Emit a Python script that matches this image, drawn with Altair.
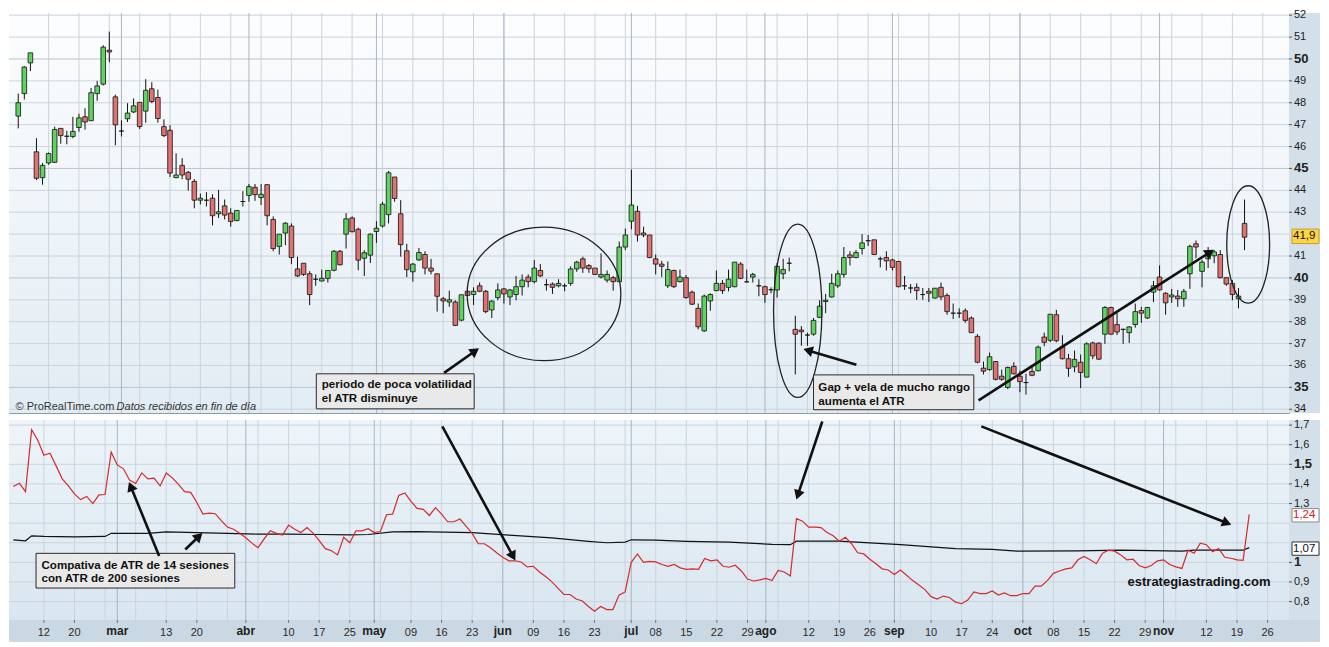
import math
import altair as alt
import pandas as pd

# ---------------- data ----------------
opens = [47.39,48.42,49.82,45.76,44.58,45.25,45.28,46.83,46.47,46.46,
         46.87,47.36,47.18,48.42,48.85,50.40,48.27,46.71,47.27,47.58,
         48.02,47.62,48.64,48.24,46.91,46.74,44.58,45.14,44.82,44.41,
         43.55,43.55,43.64,42.93,43.29,42.96,42.62,43.49,43.77,44.14,
         43.67,44.26,42.67,41.44,42.05,42.37,40.41,40.67,40.19,39.94,
         39.86,39.98,40.35,41.22,42.00,42.74,42.22,40.90,41.04,42.12,
         42.37,42.89,44.61,42.93,41.24,40.28,40.82,41.07,40.45,40.19,
         39.05,38.90,38.90,38.07,39.39,39.24,39.64,39.39,38.54,39.10,
         39.50,39.13,39.24,39.60,40.04,39.83,40.34,39.69,39.72,39.64,
         39.64,39.75,40.41,40.87,40.56,40.45,40.04,39.90,40.01,39.83,
         41.41,42.59,43.04,42.05,41.96,40.87,40.63,39.64,40.34,39.83,
         40.01,39.35,38.61,37.58,38.95,39.42,39.75,39.57,39.60,40.63,
         39.82,40.04,39.64,39.60,39.46,39.45,40.19,40.67,37.65,37.62,
         37.39,37.43,38.20,38.92,39.13,39.64,40.16,41.05,40.93,41.34,
         41.70,41.74,40.87,40.93,40.82,40.75,39.64,39.54,39.57,39.24,
         39.39,39.08,39.57,39.20,38.39,38.39,38.50,38.17,37.33,35.88,
         35.81,36.18,35.51,35.00,35.96,35.51,35.22,35.73,35.76,37.30,
         37.15,38.32,36.85,36.31,35.94,36.15,35.47,37.03,37.02,37.43,
         38.65,37.87,37.65,37.50,37.87,38.51,38.17,39.35,40.04,39.30,
         39.13,39.17,39.05,40.19,41.56,40.30,40.87,41.01,41.07,40.01,
         39.75,39.05,42.49]
highs = [48.42,49.67,50.28,46.38,45.25,45.73,46.91,46.83,46.72,47.36,
         47.50,47.75,48.68,49.00,50.63,51.25,48.37,47.20,47.98,48.20,
         48.02,49.08,48.94,48.60,47.24,46.97,45.69,45.47,44.88,44.51,
         43.85,43.92,43.82,44.02,43.58,43.18,43.08,43.96,44.29,44.29,
         44.29,44.26,42.81,42.00,42.55,42.49,40.97,40.67,40.31,40.16,
         40.38,40.34,41.27,41.27,42.96,42.81,42.30,41.27,42.03,42.59,
         43.48,44.88,44.61,43.55,41.56,40.68,41.37,41.22,40.87,40.19,
         39.13,39.42,38.98,39.23,39.64,39.57,39.79,39.45,38.98,39.75,
         39.54,39.50,40.09,40.16,40.16,40.82,40.63,39.94,39.79,39.94,
         39.75,40.53,40.78,40.97,40.63,40.45,41.12,40.34,40.09,41.66,
         42.25,44.95,43.29,42.34,41.96,41.07,40.78,40.75,40.38,40.38,
         40.13,39.42,38.83,39.24,39.30,40.34,39.90,40.38,40.72,40.72,
         40.38,40.23,39.94,39.64,39.57,40.68,40.87,40.93,38.27,37.80,
         37.50,38.17,38.98,39.27,40.19,40.34,41.41,41.22,41.27,42.00,
         41.96,41.74,40.97,41.22,40.87,40.78,40.09,39.72,39.75,39.54,
         39.54,39.54,39.79,39.30,38.83,38.61,38.61,38.24,37.43,36.18,
         36.59,36.20,35.81,35.95,36.15,35.76,35.62,36.03,36.91,37.50,
         38.34,38.54,37.38,36.53,36.68,36.50,37.06,37.09,37.06,38.71,
         38.68,38.39,37.68,37.80,38.83,38.68,38.68,39.86,40.57,39.35,
         39.50,39.45,39.50,41.52,41.71,40.82,41.41,41.27,41.27,40.04,
         39.90,39.54,43.58]
lows = [46.83,48.15,49.45,44.47,44.26,45.17,45.25,46.13,46.10,46.38,
        46.68,46.77,47.17,48.09,48.79,49.85,46.06,46.46,47.12,47.53,
        46.80,47.09,47.98,47.09,46.43,44.61,44.55,44.51,43.99,43.18,
        43.36,43.26,42.40,42.74,42.67,42.34,42.59,43.26,43.48,43.52,
        43.33,42.40,41.22,41.07,41.49,40.63,40.04,40.09,38.76,39.64,
        39.83,39.79,40.30,40.57,41.34,42.08,40.35,40.09,40.68,41.60,
        42.30,42.49,43.48,40.97,40.04,39.83,40.78,40.16,40.16,38.46,
        38.39,38.68,37.80,38.02,39.16,38.76,39.35,38.39,38.17,38.98,
        38.83,38.76,38.98,39.20,39.57,39.75,40.04,39.42,39.27,39.57,
        39.39,39.64,40.28,40.23,40.23,40.13,39.98,39.79,39.42,39.83,
        41.27,42.22,41.66,41.86,40.90,40.16,40.04,39.54,39.54,39.79,
        39.05,38.76,37.65,37.53,38.50,39.39,39.27,39.39,39.57,39.94,
        39.79,39.79,39.16,38.86,39.30,39.10,39.94,40.30,35.59,36.90,
        36.90,37.36,38.17,38.39,39.10,39.54,40.01,40.57,40.90,41.07,
        41.46,41.04,40.48,40.34,40.34,39.57,39.45,39.30,39.00,39.00,
        38.90,39.05,38.98,38.32,38.12,38.17,37.95,37.48,36.10,35.59,
        35.76,35.32,35.30,34.92,35.59,34.78,34.67,35.51,35.73,36.88,
        37.07,37.06,36.27,35.48,35.69,34.97,35.44,36.29,36.25,36.99,
        37.39,37.39,36.99,37.03,37.73,37.95,38.12,38.90,39.42,38.32,
        38.86,38.68,38.68,39.50,40.90,39.57,40.45,40.67,39.98,39.64,
        38.98,38.61,41.27]
closes = [48.00,49.63,50.28,44.55,45.14,45.68,46.78,46.50,46.47,46.69,
          47.31,47.12,48.46,48.77,50.54,50.32,46.99,46.71,47.53,47.86,
          46.91,48.57,48.06,47.28,46.50,44.79,44.70,44.70,44.51,43.55,
          43.64,43.55,42.84,43.02,42.87,42.58,43.08,43.49,44.17,43.80,
          43.82,42.84,41.34,42.00,42.50,40.93,40.09,40.16,39.24,39.94,
          39.98,40.34,41.22,40.60,42.70,42.11,40.81,41.15,42.00,42.27,
          43.37,44.80,43.63,41.52,40.38,40.63,41.16,40.45,40.31,39.16,
          38.95,39.00,37.83,39.23,39.20,39.39,39.39,38.46,38.94,39.45,
          39.27,39.45,39.60,39.90,39.83,40.45,40.09,39.69,39.57,39.75,
          39.64,40.41,40.72,40.45,40.42,40.16,40.16,40.16,39.83,41.41,
          41.96,43.33,41.96,41.96,40.93,40.63,40.53,40.38,39.60,40.04,
          39.10,38.80,37.77,39.17,39.24,39.75,39.42,39.94,40.72,39.98,
          39.82,40.16,39.64,39.24,39.46,40.53,40.38,40.67,37.43,37.54,
          37.39,38.06,38.71,38.98,39.75,40.19,40.93,40.93,41.16,41.60,
          41.70,41.07,40.87,40.78,40.48,39.60,39.64,39.54,39.42,39.24,
          39.30,39.53,39.13,38.46,38.39,38.39,38.06,37.50,36.15,35.74,
          36.40,35.37,35.37,35.91,35.62,35.26,35.22,35.55,36.84,37.06,
          38.34,37.13,36.31,35.87,36.28,35.68,36.99,36.44,36.29,38.65,
          37.43,37.53,37.65,37.76,38.46,38.39,38.65,39.64,39.45,38.86,
          39.22,39.05,39.39,41.44,41.41,40.72,41.16,41.19,40.01,39.72,
          39.24,39.17,41.86]

atr14 = [1.387,1.403,1.361,1.677,1.623,1.546,1.557,1.492,1.426,1.390,
         1.349,1.320,1.336,1.300,1.344,1.346,1.562,1.497,1.477,1.420,
         1.402,1.456,1.426,1.430,1.390,1.456,1.431,1.398,1.361,1.357,
         1.305,1.246,1.251,1.248,1.213,1.180,1.169,1.148,1.125,1.098,
         1.075,1.120,1.161,1.148,1.139,1.190,1.169,1.152,1.177,1.149,
         1.111,1.070,1.059,1.038,1.128,1.100,1.161,1.161,1.172,1.152,
         1.157,1.243,1.246,1.341,1.354,1.311,1.275,1.270,1.239,1.279,
         1.246,1.207,1.207,1.221,1.185,1.148,1.095,1.095,1.074,1.049,
         1.026,1.008,1.008,1.002,0.977,0.980,0.951,0.928,0.902,0.869,
         0.836,0.836,0.813,0.803,0.775,0.751,0.775,0.759,0.759,0.833,
         0.849,1.000,1.043,1.000,1.005,1.002,0.989,0.980,0.989,0.972,
         0.964,0.967,0.964,1.020,1.008,1.013,0.980,0.975,0.985,0.956,
         0.915,0.905,0.911,0.918,0.907,0.959,0.951,0.931,1.223,1.210,
         1.180,1.180,1.177,1.152,1.136,1.108,1.128,1.095,1.049,1.043,
         1.016,0.993,0.967,0.961,0.938,0.961,0.934,0.907,0.885,0.861,
         0.825,0.813,0.828,0.821,0.797,0.789,0.808,0.849,0.841,0.841,
         0.854,0.833,0.844,0.830,0.830,0.841,0.841,0.879,0.879,0.907,
         0.944,0.956,0.967,0.972,1.013,1.030,1.013,0.993,1.046,1.062,
         1.057,1.038,1.013,1.016,0.984,0.972,0.984,1.008,1.013,0.989,
         0.977,0.969,1.062,1.046,1.098,1.090,1.054,1.070,1.026,1.021,
         1.013,1.010,1.245]

atr200_idx = [0, 2, 3, 5, 10, 15, 16, 22, 25, 30, 35, 40, 45, 50, 55, 58, 62, 66,
              75, 81, 88, 94, 97, 100, 101, 105, 110, 117, 124, 127, 128, 135,
              145, 154, 160, 164, 174, 181, 191, 193, 201, 202]
atr200_val = [1.115, 1.110, 1.135, 1.132, 1.130, 1.132, 1.148, 1.148, 1.155, 1.152,
              1.148, 1.144, 1.144, 1.142, 1.140, 1.142, 1.155, 1.157, 1.152, 1.139,
              1.125, 1.107, 1.100, 1.103, 1.115, 1.113, 1.107, 1.103, 1.092, 1.090,
              1.108, 1.108, 1.090, 1.070, 1.066, 1.057, 1.059, 1.062, 1.057, 1.062,
              1.062, 1.075]

price_ticks = [34, 35, 36, 37, 38, 39, 40, 41, 43, 44, 45, 46, 47, 48, 49, 50, 51, 52]
price_bold = [35, 40, 45, 50]
price_grid = list(range(34, 53))
atr_grid = [0.8, 0.9, 1.0, 1.1, 1.2, 1.3, 1.4, 1.5, 1.6, 1.7]
atr_ticks = [0.8, 0.9, 1.0, 1.3, 1.4, 1.5, 1.6, 1.7]
atr_bold = [1.0, 1.5]

week_ticks = list(range(5, 206, 5))
month_ticks = [17, 38, 59, 80, 101, 123, 144, 165, 188]
month_labels = ["mar", "abr", "may", "jun", "jul", "ago", "sep", "oct", "nov"]
day_idx = [5, 10, 25, 30, 45, 50, 55, 65, 70, 75, 85, 90, 95, 105, 110, 115, 120, 130, 135,
           140, 150, 155, 160, 170, 175, 180, 185, 195, 200, 205]
day_labels = ["12", "20", "13", "20", "10", "17", "25", "09", "16", "23", "09", "16", "23",
              "08", "15", "22", "29", "12", "19", "26", "10", "17", "24", "08", "15", "22",
              "29", "12", "19", "26"]

last_close = 41.9
last_atr14 = 1.24
last_atr200 = 1.07

# ---------------- layout ----------------
W, H1, H2 = 1280, 400, 200
BAND = 31
XMIN, XMAX = -0.7, 208.5
P_MIN, P_MAX = 33.83, 52.1
A_MIN, A_MAX = 0.706, 1.726
FONT = "Liberation Sans"

sx = W / (XMAX - XMIN)
sy1 = H1 / (P_MAX - P_MIN)
sy2 = H2 / (A_MAX - A_MIN)

xs = alt.Scale(domain=[XMIN, XMAX], nice=False, zero=False)
ys1 = alt.Scale(domain=[P_MIN, P_MAX], nice=False, zero=False)
ys2 = alt.Scale(domain=[A_MIN, A_MAX], nice=False, zero=False)

one = pd.DataFrame({"k": [0]})

GREEN = "#5fd35f"
RED = "#e07272"
GRID = "#cad4dd"
GRID_MAJ = "#b9c5cf"
GRID_M = "#a9b6c2"


def fmt(v):
    return f"{v:g}".replace(".", ",")


def X(field):
    return alt.X(field, scale=xs, axis=None)


def bg(h, c0, c1):
    return alt.Chart(one).mark_rect(
        fill=alt.Gradient(gradient="linear",
                          stops=[alt.GradientStop(color=c0, offset=0),
                                 alt.GradientStop(color=c1, offset=1)],
                          x1=0, x2=0, y1=0, y2=1)
    ).encode(x=alt.value(0), x2=alt.value(W), y=alt.value(0), y2=alt.value(h))


def band_right(h):
    return alt.Chart(one).mark_rect(fill="#d3dfe9").encode(
        x=alt.value(W), x2=alt.value(W + BAND), y=alt.value(0), y2=alt.value(h))


def vgrids():
    wk = alt.Chart(pd.DataFrame({"i": week_ticks})).mark_rule(color=GRID, strokeWidth=1).encode(
        x=X("i:Q"))
    mo = alt.Chart(pd.DataFrame({"i": month_ticks})).mark_rule(color=GRID_M, strokeWidth=1).encode(
        x=X("i:Q"))
    return [wk, mo]


def hgrid(values, ys, major):
    layers = []
    for ismaj, col in ((False, GRID), (True, GRID_MAJ)):
        vals = [v for v in values if (v in major) == ismaj]
        if vals:
            layers.append(alt.Chart(pd.DataFrame({"v": vals})).mark_rule(
                color=col, strokeWidth=1).encode(y=alt.Y("v:Q", scale=ys, axis=None)))
    return layers


def right_axis(values, bold, ys):
    layers = [alt.Chart(pd.DataFrame({"v": values})).mark_rule(color="#555", strokeWidth=1).encode(
        x=alt.value(W), x2=alt.value(W + 3), y=alt.Y("v:Q", scale=ys, axis=None))]
    for isbold in (False, True):
        vals = [v for v in values if (v in bold) == isbold]
        df = pd.DataFrame({"v": vals, "t": [fmt(v) for v in vals]})
        layers.append(alt.Chart(df).mark_text(
            align="left", baseline="middle", font=FONT,
            fontSize=13 if isbold else 11, fontWeight="bold" if isbold else "normal",
            color="#222").encode(x=alt.value(W + 5), y=alt.Y("v:Q", scale=ys, axis=None),
                                 text="t:N"))
    return layers


def bottom_axis():
    all_idx = day_idx + month_ticks
    ticks = alt.Chart(pd.DataFrame({"i": all_idx})).mark_rule(color="#6a7680", strokeWidth=1).encode(
        x=X("i:Q"), y=alt.value(H2), y2=alt.value(H2 + 3))
    days = alt.Chart(pd.DataFrame({"i": day_idx, "t": day_labels})).mark_text(
        align="center", baseline="top", font=FONT, fontSize=11, color="#2a2a2a").encode(
        x=X("i:Q"), y=alt.value(H2 + 7), text="t:N")
    months = alt.Chart(pd.DataFrame({"i": month_ticks, "t": month_labels})).mark_text(
        align="center", baseline="top", font=FONT, fontSize=12, fontWeight="bold",
        color="#222").encode(x=X("i:Q"), y=alt.value(H2 + 6), text="t:N")
    return [ticks, days, months]


def badge(v, half, ys, fill, stroke, tcolor):
    df = pd.DataFrame({"v": [v], "lo": [v - half], "hi": [v + half], "t": [fmt(v)]})
    r = alt.Chart(df).mark_rect(fill=fill, stroke=stroke, strokeWidth=1).encode(
        x=alt.value(W + 3), x2=alt.value(W + BAND - 1),
        y=alt.Y("lo:Q", scale=ys, axis=None), y2="hi:Q")
    t = alt.Chart(df).mark_text(align="left", baseline="middle", font=FONT, fontSize=11.5,
                                color=tcolor).encode(
        x=alt.value(W + 4), y=alt.Y("v:Q", scale=ys, axis=None), text="t:N")
    return [r, t]


def arrows(arr, ys, sy):
    shafts, heads = [], []
    for (i1, v1, i2, v2) in arr:
        dx = (i2 - i1) * sx
        dy = -(v2 - v1) * sy
        L = math.hypot(dx, dy)
        ux, uy = dx / L, dy / L
        ang = math.degrees(math.atan2(ux, -uy)) % 360
        back = 4.0
        hx = i2 - ux * back / sx
        hv = v2 + uy * back / sy
        shafts.append({"i1": i1, "v1": v1, "i2": hx, "v2": hv})
        heads.append({"hx": hx, "hv": hv, "ang": ang})
    s = alt.Chart(pd.DataFrame(shafts)).mark_rule(color="#111", strokeWidth=2.6).encode(
        x=X("i1:Q"), x2="i2:Q", y=alt.Y("v1:Q", scale=ys, axis=None), y2="v2:Q")
    h = alt.Chart(pd.DataFrame(heads)).mark_point(
        shape="triangle-up", filled=True, size=120, color="#111", opacity=1).encode(
        x=X("hx:Q"), y=alt.Y("hv:Q", scale=ys, axis=None),
        angle=alt.Angle("ang:Q", scale=None))
    return [s, h]


def ellipse_path(a):
    k = 0.5523
    f = lambda z: f"{z:.4f}"
    return (f"M {f(a)} 0 C {f(a)} {f(k)} {f(k*a)} 1 0 1 "
            f"C {f(-k*a)} 1 {f(-a)} {f(k)} {f(-a)} 0 "
            f"C {f(-a)} {f(-k)} {f(-k*a)} -1 0 -1 "
            f"C {f(k*a)} -1 {f(a)} {f(-k)} {f(a)} 0 Z")


def box(rect, lines, ys, fontsize=11.6):
    i1, i2, v1, v2 = rect
    r = alt.Chart(pd.DataFrame({"i1": [i1], "i2": [i2], "v1": [v1], "v2": [v2]})).mark_rect(
        fill="#e9e9e9", stroke="#2a2a2a", strokeWidth=1).encode(
        x=X("i1:Q"), x2="i2:Q", y=alt.Y("v1:Q", scale=ys, axis=None), y2="v2:Q")
    t = alt.Chart(pd.DataFrame(lines, columns=["i", "v", "t"])).mark_text(
        align="left", baseline="middle", font=FONT, fontSize=fontsize, fontWeight="bold",
        color="#111").encode(x=X("i:Q"), y=alt.Y("v:Q", scale=ys, axis=None), text="t:N")
    return [r, t]


# ---------------- top panel: candles ----------------
cdf = pd.DataFrame({"i": list(range(len(opens))), "open": opens, "high": highs,
                    "low": lows, "close": closes})
up = cdf[cdf["close"] >= cdf["open"]]
down = cdf[cdf["close"] < cdf["open"]]

wicks = alt.Chart(cdf).mark_rule(color="#111", strokeWidth=1).encode(
    x=X("i:Q"), y=alt.Y("low:Q", scale=ys1, axis=None), y2="high:Q")
bodies_up = alt.Chart(up).mark_bar(size=4.6, fill=GREEN, stroke="#111", strokeWidth=0.8).encode(
    x=X("i:Q"), y=alt.Y("open:Q", scale=ys1, axis=None), y2="close:Q")
bodies_dn = alt.Chart(down).mark_bar(size=4.6, fill=RED, stroke="#111", strokeWidth=0.8).encode(
    x=X("i:Q"), y=alt.Y("open:Q", scale=ys1, axis=None), y2="close:Q")

ell = [(86.6, 39.27, 12.56, 3.05), (128.4, 38.5, 3.95, 3.96), (202.6, 41.53, 3.5, 2.68)]
erows = []
for ci, cv, rx, ry in ell:
    rxp, ryp = rx * sx, ry * sy1
    erows.append({"i": ci, "v": cv, "path": ellipse_path(rxp / ryp), "sz": (2 * ryp) ** 2})
ellipses = alt.Chart(pd.DataFrame(erows)).mark_point(
    filled=False, color="#222", strokeWidth=1.3, opacity=1).encode(
    x=X("i:Q"), y=alt.Y("v:Q", scale=ys1, axis=None),
    shape=alt.Shape("path:N", scale=None), size=alt.Size("sz:Q", scale=None))

top_arrows = arrows([(70.15, 35.66, 75.79, 36.77),
                     (138.06, 36.03, 129.46, 36.74),
                     (158.19, 34.41, 196.84, 41.27)], ys1, sy1)

box1 = box((49.1, 75.1, 34.02, 35.62),
           [(50.0, 35.12, "periodo de poca volatilidad"), (50.0, 34.46, "el ATR disminuye")], ys1)
box2 = box((131.0, 157.4, 33.98, 35.57),
           [(131.8, 34.96, "Gap + vela de mucho rango"), (131.8, 34.32, "aumenta el ATR")], ys1)

prt = alt.Chart(pd.DataFrame({"i": [-0.45], "v": [34.12], "t": ["© ProRealTime.com"]})).mark_text(
    align="left", baseline="middle", font=FONT, fontSize=11, color="#333").encode(
    x=X("i:Q"), y=alt.Y("v:Q", scale=ys1, axis=None), text="t:N")
prt2 = alt.Chart(pd.DataFrame({"i": [16.2], "v": [34.12], "t": ["Datos recibidos en fin de día"]})).mark_text(
    align="left", baseline="middle", font=FONT, fontSize=11, fontStyle="italic", color="#333").encode(
    x=X("i:Q"), y=alt.Y("v:Q", scale=ys1, axis=None), text="t:N")

top = alt.layer(
    bg(H1, "#fcfdfe", "#e2ecf4"), band_right(H1),
    *hgrid(price_grid, ys1, price_bold), *vgrids(),
    wicks, bodies_up, bodies_dn, ellipses, *box1, *box2, *top_arrows, prt, prt2,
    *right_axis(price_ticks, price_bold, ys1),
    *badge(last_close, 0.33, ys1, "#fbd447", "#c9a227", "#111"),
).properties(width=W, height=H1)

# ---------------- bottom panel: ATR ----------------
adf = pd.DataFrame({"i": list(range(len(atr14))), "atr": atr14})
bdf = pd.DataFrame({"i": atr200_idx, "atr": atr200_val})

line200 = alt.Chart(bdf).mark_line(color="#111", strokeWidth=1.2).encode(
    x=X("i:Q"), y=alt.Y("atr:Q", scale=ys2, axis=None))
line14 = alt.Chart(adf).mark_line(color="#d42b2b", strokeWidth=1.2).encode(
    x=X("i:Q"), y=alt.Y("atr:Q", scale=ys2, axis=None))

band_bottom = alt.Chart(one).mark_rect(fill="#cad8e3").encode(
    x=alt.value(0), x2=alt.value(W + BAND), y=alt.value(H2), y2=alt.value(H2 + 22))

box3 = box((3.72, 36.2, 0.869, 1.046),
           [(4.6, 0.983, "Compativa de ATR de 14 sesiones"), (4.6, 0.914, "con ATR de 200 sesiones")],
           ys2)

bot_arrows = arrows([(70.12, 1.6936, 82.0, 1.0128),
                     (23.84, 1.0325, 18.95, 1.4063),
                     (28.11, 1.0654, 30.82, 1.1476),
                     (132.22, 1.7182, 128.03, 1.3246),
                     (158.22, 1.6936, 198.96, 1.1933)], ys2, sy2)

site = alt.Chart(pd.DataFrame({"i": [193.8], "v": [0.898], "t": ["estrategiastrading.com"]})).mark_text(
    align="center", baseline="middle", font=FONT, fontSize=13, fontWeight="bold",
    color="#111").encode(x=X("i:Q"), y=alt.Y("v:Q", scale=ys2, axis=None), text="t:N")

bottom = alt.layer(
    bg(H2, "#eef5fa", "#d9e6f0"), band_right(H2), band_bottom,
    *hgrid(atr_grid, ys2, []), *vgrids(),
    line200, line14, *box3, *bot_arrows, site,
    *right_axis(atr_ticks, atr_bold, ys2),
    *badge(last_atr14, 0.034, ys2, "#ffffff", "#8a8a8a", "#cc2222"),
    *badge(last_atr200, 0.034, ys2, "#ffffff", "#333333", "#111"),
    *bottom_axis(),
).properties(width=W, height=H2)

chart = alt.vconcat(top, bottom, spacing=3).properties(
    padding={"left": 0, "top": 0, "right": 0, "bottom": 0}
).configure_view(stroke="#8e9ba7", strokeWidth=1)

chart.save("out.html", embed_options={"renderer": "svg", "actions": False})
